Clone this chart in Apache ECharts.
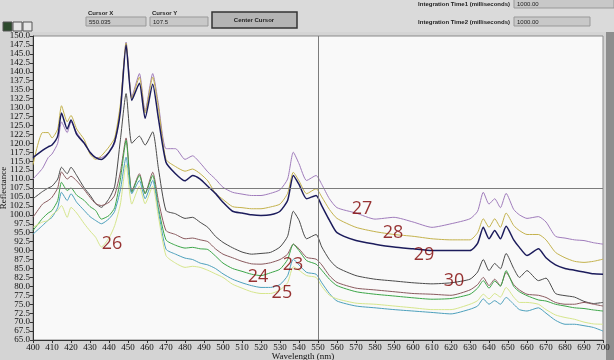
<!DOCTYPE html>
<html>
<head>
<meta charset="utf-8">
<script src="https://cdn.jsdelivr.net/npm/echarts@6/dist/echarts.min.js"></script>
<style>
  html, body { margin: 0; padding: 0; background: #d4d4d4; }
  #main { width: 614px; height: 360px; }
</style>
</head>
<body>
<div id="main"></div>
<script>
// shared wavelength grid (nm)
var wavelengths = [400,405,408,410,413,415,418,420,423,427,430,433,436,440,443,446,449,452,456,459,463,466,470,475,480,484,488,492,496,500,505,510,515,520,525,530,534,537,540,544,549,552,556,560,570,580,590,600,610,620,630,634,637,640,643,646,649,653,656,660,666,670,675,680,685,690,695,700];

var s27 = [110,113,116,117,120,126,123,126,123,120,117.5,116,116,117.5,120,130,148.3,133,139.5,129,139.5,131,118.5,118.5,115.5,116.5,114.5,112,110,107.7,106.3,105.8,105.4,105.4,106,107,110,117.5,114.3,109.6,111,108.5,104.5,102,100.5,98.8,99.3,98,96.5,97.5,98.9,101,106.3,103,104.5,102,106,101.5,100,99,99.5,98,94,93.5,93,92.8,92.2,91.8];
var s28 = [114,123,123,121.5,124,130.5,126,127.8,124,121,117,115.5,116.5,119,121.5,131,148,132.5,138.5,128.5,138.5,130,115.5,113.5,112.2,112.8,111.5,109.5,106,104.3,102.3,102,101.7,101.7,102.2,103,106,111.9,109.5,105.9,107.3,105,101.5,99,96.5,95.3,94.5,94,93.3,93,93,95,98.9,96.5,98.9,96.5,100.5,97,95.6,94.5,94.5,93,89.5,88,87,86.7,87,87.6];
var s29 = [116,118,119,119.5,122,128.5,124,126.5,122.5,120,117.5,116,115.5,117.5,120.5,129,147.5,132,136.8,127,136.5,127,114.7,111.5,109.5,111,110,108,106,103.5,101,100.5,100,99.8,100,101,104,111,108.5,104.5,105.4,102.5,98.5,95,92.8,91.8,91,90.5,90,90,90,92,96.5,93.3,95.6,93.3,96.8,93,90.9,88.6,90.5,88,86,85,84.5,84,83.5,83.4];
var s30 = [104.5,106.5,107.5,108,110,113.3,111.5,113.3,111,107.5,105.5,103.2,102.1,104.5,108,121,133.9,120,122,119.5,123.2,113,101.2,100.3,99,99.3,97.9,96.5,94,92.3,90.8,89.6,89,89.2,89.5,91,94,101,98.5,93.3,94.5,91,87.5,85.3,83,82,81.5,81,80.7,81,82,84,87.5,84.4,86.4,84.9,89.2,85,82.5,84.4,81.6,82.3,78,77.4,77,75.8,75.2,75.5];
var s23 = [99.3,103,104,104.9,107.5,112,110,110.8,109.5,107,104.9,103.1,102.6,103.5,105.5,112,121.5,106.5,111.5,106,111.9,104,95.6,94.5,93.3,93.5,93,92.5,90.5,89,88,87,86.3,86.2,86.6,87.5,89,91.8,90.5,88.1,87.6,86,83,81.1,79.5,79,78.5,78,77.8,77.5,79,80.5,82.5,80.2,82,80.2,83.9,80.5,79,77.8,77.5,76.9,75.5,75,75,75.5,75,74.5];
var s24 = [95.6,99,100.5,101.2,104,109.1,106.8,107.5,105.5,104,102.3,101.2,98.8,99.8,102,110,120.8,106.3,111,105.9,111,102,93,91.5,90.7,90.9,90.5,90.3,88.5,86.5,85,84.2,83.4,83,83.8,84.8,87.5,91.8,90,87.2,86.2,84.5,82,80.2,78.5,77.8,77.3,76.8,76.4,76.6,77.8,79.5,81.6,79.5,81.5,80,84.4,80,78.5,77.4,76.2,75.9,75,74.5,74,73.8,73.4,73.1];
var s25 = [94.6,97,98.5,99.3,102,106.3,104,105.9,103.5,101.2,99.5,98.4,97.5,98.9,101,107,116.1,105.9,109.6,104.5,109.6,101,90.4,89,87.9,87.5,86.5,86,85,83.5,82,81,80.2,79.7,79.7,80.5,83,87.6,86,83.9,83.4,81,78,75.9,74.5,74,73.5,73.1,72.7,72.3,73.6,74.5,76.5,75,76,75,76.9,75,73.5,73.1,74,72.5,70.5,69.4,69.4,69,68.5,67.5];
var s26 = [96.5,98,98.4,100,101.2,102.6,99.3,102.1,100.5,97.5,95.5,93.7,91,93.5,97,103,114,103,108,103.1,108,99.5,88.6,86.5,85.3,85.6,85.3,84.5,83.5,82.5,80.6,79.5,78.5,78,78,79,81,85.5,84.5,83,82.5,80,77.5,76.5,75.3,75,74.5,74,73.5,73.5,75,76,77.8,76.5,78,77,79.7,77,75.5,75.5,75,73.5,72,71.3,70.8,70,69.5,69.4];

// sample numbers written on the plot: [wavelength, reflectance, text]
var sampleLabels = [[441.6,91.9,'26'],[536.8,86.0,'23'],[518.4,82.7,'24'],[531,78.2,'25'],[573.2,101.8,'27'],[589.5,95.0,'28'],[605.8,88.8,'29'],[621.6,81.6,'30']];

var cursorX = 550.035;
var cursorY = 107.5;

var spectra = [
  { name: '27', data: s27, color: '#a07cbc' },
  { name: '28', data: s28, color: '#c4b24c' },
  { name: '29', data: s29, color: '#1c1c5c' },
  { name: '30', data: s30, color: '#4a4a4a' },
  { name: '23', data: s23, color: '#8a5a5e' },
  { name: '24', data: s24, color: '#3ca648' },
  { name: '25', data: s25, color: '#4ca0bc' },
  { name: '26', data: s26, color: '#d6e68c' }
];

function pairs(vals) {
  return wavelengths.map(function (w, i) { return [w, vals[i]]; });
}

var chart = echarts.init(document.getElementById('main'));

var series = spectra.map(function (s) {
  return {
    name: s.name,
    type: 'line',
    data: pairs(s.data),
    showSymbol: false,
    smooth: 0.2,
    lineStyle: { color: s.color, width: s.name == '29' ? 1.5 : 1 },
    itemStyle: { color: s.color },
    z: 3
  };
});

// cursor cross
series.push({
  type: 'line',
  data: [],
  markLine: {
    silent: true,
    symbol: 'none',
    label: { show: false },
    lineStyle: { color: '#7c7c7c', type: 'solid', width: 1 },
    data: [{ xAxis: cursorX }, { yAxis: cursorY }]
  },
  z: 2
});

// number annotations
series.push({
  type: 'scatter',
  data: sampleLabels.map(function (l) { return [l[0], l[1], l[2]]; }),
  symbolSize: 1,
  itemStyle: { color: 'rgba(0,0,0,0)' },
  label: {
    show: true,
    position: 'inside',
    formatter: function (p) { return p.data[2]; },
    color: '#7e0000',
    textBorderWidth: 0,
    fontSize: 18,
    fontFamily: 'Open Sans'
  },
  z: 5
});

var hdrFont = { fontSize: 6, fontWeight: 'bold', fontFamily: 'Liberation Sans', fill: '#222' };
function box(x, y, w, h, txt) {
  return [
    { type: 'rect', shape: { x: x, y: y, width: w, height: h }, style: { fill: '#c8c8c8', stroke: '#999', lineWidth: 1 } },
    { type: 'text', x: x + 3, y: y + 2, style: Object.assign({ text: txt }, hdrFont, { fontWeight: 'normal' }) }
  ];
}

var graphics = [
  { type: 'rect', shape: { x: 0, y: 0, width: 614, height: 32 }, style: { fill: '#dadada' } },
  { type: 'rect', shape: { x: 606, y: 32, width: 8, height: 328 }, style: { fill: '#8e8e8e' } },
  { type: 'rect', shape: { x: 3, y: 22, width: 9, height: 9 }, style: { fill: '#2c4a2c', stroke: '#555' } },
  { type: 'rect', shape: { x: 13, y: 22, width: 9, height: 9 }, style: { fill: '#e6e6e6', stroke: '#555' } },
  { type: 'rect', shape: { x: 23, y: 22, width: 9, height: 9 }, style: { fill: '#e6e6e6', stroke: '#555' } },
  { type: 'text', x: 88, y: 10, style: Object.assign({ text: 'Cursor X' }, hdrFont) },
  { type: 'text', x: 152, y: 10, style: Object.assign({ text: 'Cursor Y' }, hdrFont) },
  { type: 'rect', shape: { x: 212, y: 12, width: 85, height: 16 }, style: { fill: '#b4b4b4', stroke: '#333', lineWidth: 1.5 } },
  { type: 'text', x: 254, y: 20, style: Object.assign({ text: 'Center Cursor', align: 'center', verticalAlign: 'middle' }, hdrFont) },
  { type: 'text', x: 510, y: 1, style: Object.assign({ text: 'Integration Time1 (milliseconds)', align: 'right' }, hdrFont) },
  { type: 'text', x: 510, y: 19, style: Object.assign({ text: 'Integration Time2 (milliseconds)', align: 'right' }, hdrFont) }
]
  .concat(box(86, 17, 60, 9, cursorX.toFixed(3)))
  .concat(box(150, 17, 58, 9, cursorY.toFixed(1)))
  .concat(box(514, -1, 100, 9, '1000.00'))
  .concat(box(514, 17, 76, 9, '1000.00'));

var option = {
  backgroundColor: '#d4d4d4',
  animation: false,
  graphic: graphics,
  grid: {
    left: 33, right: 11, top: 36, bottom: 20,
    containLabel: false,
    outerBoundsMode: 'none',
    show: true, backgroundColor: '#f9f9f9', borderColor: '#8a8a8a', borderWidth: 1
  },
  xAxis: {
    type: 'value',
    min: 400, max: 700, interval: 10,
    name: 'Wavelength (nm)',
    nameLocation: 'middle',
    nameGap: 12,
    nameMoveOverlap: false,
    nameTextStyle: { fontFamily: 'Liberation Serif', fontSize: 9, color: '#111', padding: [0, 30, 0, 0] },
    axisLine: { lineStyle: { color: '#333' } },
    axisTick: { length: 3, lineStyle: { color: '#333' } },
    axisLabel: { fontFamily: 'Liberation Serif', fontSize: 9, color: '#111', margin: 3, showMinLabel: true, showMaxLabel: true },
    splitLine: { show: false }
  },
  yAxis: {
    type: 'value',
    min: 65, max: 150, interval: 2.5,
    name: 'Reflectance',
    nameLocation: 'middle',
    nameGap: 25,
    nameMoveOverlap: false,
    nameTextStyle: { fontFamily: 'Liberation Serif', fontSize: 9, color: '#111' },
    axisLine: { show: true, lineStyle: { color: '#333' } },
    axisTick: { show: true, length: 3, lineStyle: { color: '#333' } },
    axisLabel: {
      fontFamily: 'Liberation Serif', fontSize: 9, color: '#111', margin: 3,
      showMinLabel: true, showMaxLabel: true, hideOverlap: false,
      formatter: function (v) { return v.toFixed(1); }
    },
    splitLine: { show: false }
  },
  series: series
};

chart.setOption(option);
</script>
</body>
</html>
